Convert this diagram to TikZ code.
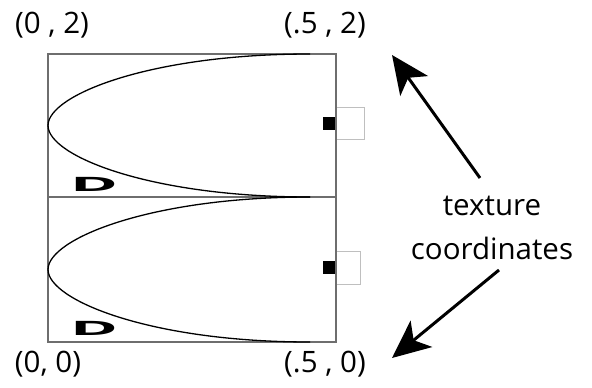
\documentclass[tikz,border=0pt]{standalone}
\usepackage{fontspec}
\setmainfont{Open Sans}
\usetikzlibrary{positioning, arrows.meta}
\definecolor{framegray}{HTML}{6E6E6E}

\begin{document}
\begin{tikzpicture}[x=1pt, y=-1pt,
    lbl/.style={font=\fontsize{29.5}{44}\selectfont, inner sep=0pt},
    frame/.style={draw=framegray, line width=2pt},
    curve/.style={line width=1.3pt},
    blackdot/.style={fill=black, inner sep=0pt, minimum width=13pt, minimum height=13pt},
    tab/.style={draw=black!25, line width=0.6pt, fill=white, inner sep=0pt},
    dmark/.style={inner sep=0pt, font=\fontsize{18}{18}\selectfont\bfseries},
    pointer/.style={line width=3pt, -{Stealth[length=38pt, width=34pt, inset=10pt]}}]
    \useasboundingbox (0,0) rectangle (592,388);

    % Corners of the two texture cells
    \coordinate (tl) at (48,54);
    \coordinate (tr) at (336,54);
    \coordinate (ml) at (48,197);
    \coordinate (mr) at (336,197);
    \coordinate (bl) at (48,342);
    \coordinate (br) at (336,342);

    % Corner labels
    \node[lbl] (l02) at (52,25) {(0 , 2)};
    \node[lbl] (l52) at (325,25) {(.5 , 2)};
    \node[lbl] (l00) at (48,364) {(0, 0)};
    \node[lbl] (l50) at (325,364) {(.5 , 0)};

    % Small tabs on the right edge
    \node[tab, minimum width=28pt, minimum height=32pt] (tabA) at (350,123) {};
    \node[tab, minimum width=24pt, minimum height=33pt] (tabB) at (348,267.5) {};
    \node[blackdot] (dotA) at (329,123.5) {};
    \node[blackdot] (dotB) at (329,267) {};

    % The frame
    \draw[frame] (tl) rectangle (br);
    \draw[frame] (ml) -- (mr);

    % The half-ellipse curves
    \draw[curve] (310,54) .. controls (150,54) and (48,95) .. (48,125.5)
        .. controls (48,156) and (150,197) .. (310,197);
    \draw[curve] (310,197) .. controls (150,197) and (48,239) .. (48,269.5)
        .. controls (48,300) and (150,342) .. (310,342);

    % Squashed D marks
    \node[dmark] (dA) at (94,184) {\scalebox{3.6}[1.1]{D}};
    \node[dmark] (dB) at (94,328.5) {\scalebox{3.6}[1.1]{D}};

    % Caption and arrows
    \node[lbl, align=center] (tex) at (492,228) {texture\\coordinates};
    \coordinate (tipA) at (392,55);
    \coordinate (tipB) at (392,358);
    \draw[pointer] ([shift={(-12,-50)}]tex.center) -- (tipA);
    \draw[pointer] ([shift={(7,42)}]tex.center) -- (tipB);
\end{tikzpicture}
\end{document}
